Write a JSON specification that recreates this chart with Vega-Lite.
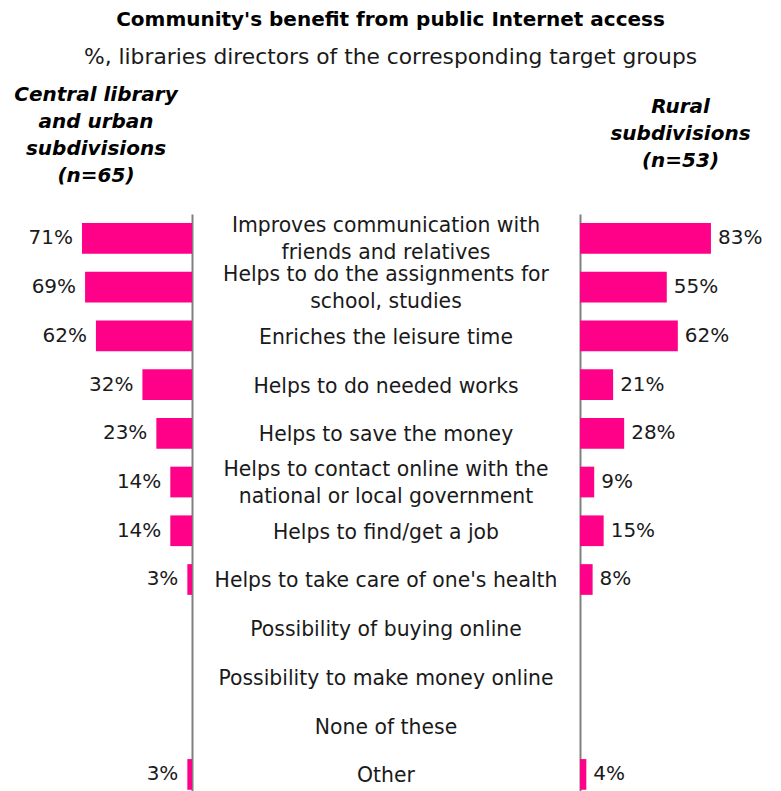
{
  "$schema": "https://vega.github.io/schema/vega-lite/v6.json",
  "padding": {"top": 10, "left": 0, "right": 0, "bottom": 0},
  "autosize": {"type": "pad"},
  "background": "white",
  "spacing": 0,
  "bounds": "flush",
  "title": {
    "text": "Community's benefit from public Internet access",
    "subtitle": "%, libraries directors of the corresponding target groups",
    "font": "DejaVu Sans", "fontSize": 20, "fontWeight": "bold", "color": "#000000",
    "subtitleFont": "DejaVu Sans", "subtitleFontSize": 21.8, "subtitleColor": "#1a1a1a",
    "subtitlePadding": 17, "anchor": "middle", "offset": 16
  },
  "datasets": {
    "rows": [
      {"item": "Improves communication with friends and relatives", "label": ["Improves communication with", "friends and relatives"], "central": 71, "centralLabel": "71%", "rural": 83, "ruralLabel": "83%"},
      {"item": "Helps to do the assignments for school, studies", "label": ["Helps to do the assignments for", "school, studies"], "central": 69, "centralLabel": "69%", "rural": 55, "ruralLabel": "55%"},
      {"item": "Enriches the leisure time", "label": ["Enriches the leisure time"], "central": 62, "centralLabel": "62%", "rural": 62, "ruralLabel": "62%"},
      {"item": "Helps to do needed works", "label": ["Helps to do needed works"], "central": 32, "centralLabel": "32%", "rural": 21, "ruralLabel": "21%"},
      {"item": "Helps to save the money", "label": ["Helps to save the money"], "central": 23, "centralLabel": "23%", "rural": 28, "ruralLabel": "28%"},
      {"item": "Helps to contact online with the national or local government", "label": ["Helps to contact online with the", "national or local government"], "central": 14, "centralLabel": "14%", "rural": 9, "ruralLabel": "9%"},
      {"item": "Helps to find/get a job", "label": ["Helps to find/get a job"], "central": 14, "centralLabel": "14%", "rural": 15, "ruralLabel": "15%"},
      {"item": "Helps to take care of one's health", "label": ["Helps to take care of one's health"], "central": 3, "centralLabel": "3%", "rural": 8, "ruralLabel": "8%"},
      {"item": "Possibility of buying online", "label": ["Possibility of buying online"], "central": null, "centralLabel": null, "rural": null, "ruralLabel": null},
      {"item": "Possibility to make money online", "label": ["Possibility to make money online"], "central": null, "centralLabel": null, "rural": null, "ruralLabel": null},
      {"item": "None of these", "label": ["None of these"], "central": null, "centralLabel": null, "rural": null, "ruralLabel": null},
      {"item": "Other", "label": ["Other"], "central": 3, "centralLabel": "3%", "rural": 4, "ruralLabel": "4%"}
    ]
  },
  "config": {"view": {"stroke": null}},
  "hconcat": [
    {
      "data": {"name": "rows"},
      "width": 192,
      "height": 584.8,
      "title": {
        "text": ["Central library", "and urban", "subdivisions", "(n=65)"],
        "font": "DejaVu Sans", "fontSize": 20, "fontWeight": "bold", "fontStyle": "italic",
        "lineHeight": 27, "anchor": "middle", "offset": 28, "color": "#000000"
      },
      "encoding": {
        "y": {
          "field": "item", "type": "nominal", "sort": null,
          "scale": {
            "domain": ["Improves communication with friends and relatives", "Helps to do the assignments for school, studies", "Enriches the leisure time", "Helps to do needed works", "Helps to save the money", "Helps to contact online with the national or local government", "Helps to find/get a job", "Helps to take care of one's health", "Possibility of buying online", "Possibility to make money online", "None of these", "Other"],
            "paddingInner": 0.37, "paddingOuter": 0.185
          },
          "axis": {"orient": "right", "title": null, "labels": false, "ticks": false, "domainColor": "#808080", "domainWidth": 2}
        },
        "x": {"field": "central", "type": "quantitative", "scale": {"domain": [0, 123.9], "reverse": true, "nice": false}, "axis": null}
      },
      "layer": [
        {"mark": {"type": "bar", "color": "#ff0088"}},
        {
          "mark": {"type": "text", "align": "right", "baseline": "middle", "dx": -9, "fontSize": 20, "font": "DejaVu Sans", "color": "#1a1a1a"},
          "encoding": {"text": {"field": "centralLabel"}}
        }
      ]
    },
    {
      "data": {"name": "rows"},
      "width": 388,
      "height": 584.8,
      "encoding": {
        "y": {
          "field": "item", "type": "nominal", "sort": null,
          "scale": {
            "domain": ["Improves communication with friends and relatives", "Helps to do the assignments for school, studies", "Enriches the leisure time", "Helps to do needed works", "Helps to save the money", "Helps to contact online with the national or local government", "Helps to find/get a job", "Helps to take care of one's health", "Possibility of buying online", "Possibility to make money online", "None of these", "Other"],
            "paddingInner": 0.37, "paddingOuter": 0.185
          },
          "axis": null
        },
        "text": {"field": "label"}
      },
      "layer": [
        {
          "transform": [{"filter": "length(datum.label) == 1"}],
          "mark": {"type": "text", "align": "center", "baseline": "middle", "lineHeight": 26, "fontSize": 20.4, "font": "DejaVu Sans", "color": "#1a1a1a", "dy": 2}
        },
        {
          "transform": [{"filter": "length(datum.label) > 1"}],
          "mark": {"type": "text", "align": "center", "baseline": "middle", "lineHeight": 26.5, "fontSize": 20.4, "font": "DejaVu Sans", "color": "#1a1a1a", "dy": -12}
        }
      ]
    },
    {
      "data": {"name": "rows"},
      "width": 201,
      "height": 584.8,
      "title": {
        "text": ["Rural", "subdivisions", "(n=53)"],
        "font": "DejaVu Sans", "fontSize": 20, "fontWeight": "bold", "fontStyle": "italic",
        "lineHeight": 27, "anchor": "middle", "offset": 43, "color": "#000000"
      },
      "encoding": {
        "y": {
          "field": "item", "type": "nominal", "sort": null,
          "scale": {
            "domain": ["Improves communication with friends and relatives", "Helps to do the assignments for school, studies", "Enriches the leisure time", "Helps to do needed works", "Helps to save the money", "Helps to contact online with the national or local government", "Helps to find/get a job", "Helps to take care of one's health", "Possibility of buying online", "Possibility to make money online", "None of these", "Other"],
            "paddingInner": 0.37, "paddingOuter": 0.185
          },
          "axis": {"orient": "left", "title": null, "labels": false, "ticks": false, "domainColor": "#808080", "domainWidth": 2}
        },
        "x": {"field": "rural", "type": "quantitative", "scale": {"domain": [0, 127.4], "nice": false}, "axis": null}
      },
      "layer": [
        {"mark": {"type": "bar", "color": "#ff0088"}},
        {
          "mark": {"type": "text", "align": "left", "baseline": "middle", "dx": 7, "fontSize": 20, "font": "DejaVu Sans", "color": "#1a1a1a"},
          "encoding": {"text": {"field": "ruralLabel"}}
        }
      ]
    }
  ]
}
